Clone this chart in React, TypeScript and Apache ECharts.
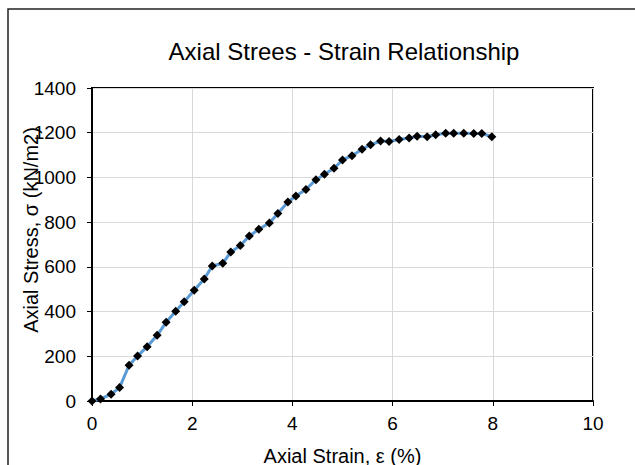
import React, { useEffect, useRef } from "react";
import * as echarts from "echarts";

const strain = [0, 0.17, 0.38, 0.55, 0.74, 0.91, 1.1, 1.3, 1.48, 1.67, 1.84, 2.04, 2.24, 2.4, 2.61, 2.77, 2.96, 3.14, 3.33, 3.54, 3.71, 3.91, 4.07, 4.27, 4.47, 4.64, 4.83, 5.0, 5.19, 5.39, 5.56, 5.76, 5.93, 6.13, 6.33, 6.49, 6.69, 6.86, 7.06, 7.22, 7.42, 7.62, 7.78, 7.98];
const stress = [0, 9, 30, 60, 160, 201, 243, 294, 352, 401, 444, 495, 546, 604, 616, 666, 695, 738, 768, 796, 839, 890, 917, 946, 990, 1014, 1041, 1078, 1097, 1126, 1146, 1163, 1161, 1170, 1176, 1184, 1182, 1191, 1198, 1198, 1198, 1197, 1197, 1182];

const titleText = "Axial Strees - Strain Relationship";
const xName = "Axial Strain, ε (%)";
const yName = "Axial Stress, σ (kN/m2)";

const FONT = "'Liberation Sans', Arial, sans-serif";

export default function App() {
  const ref = useRef<HTMLDivElement>(null);
  useEffect(() => {
    const el = ref.current;
    if (!el) return;
    const chart = echarts.init(el, null, { renderer: "svg" });
    const data = strain.map((x, i) => [x, stress[i]]);
    chart.setOption({
      animation: false,
      backgroundColor: "#fff",
      textStyle: { fontFamily: FONT },
      grid: {
        left: 92,
        top: 88,
        width: 501,
        height: 313,
        show: true,
        borderColor: "#000",
        borderWidth: 2,
        containLabel: false,
        outerBoundsMode: "none",
      },
      xAxis: {
        type: "value",
        min: 0,
        max: 10,
        interval: 2,
        name: xName,
        nameLocation: "middle",
        nameGap: 45,
        nameTextStyle: { fontSize: 20, color: "#000", fontFamily: FONT },
        axisLine: { show: true, lineStyle: { color: "#000", width: 2 } },
        axisTick: { show: true, length: 5, lineStyle: { color: "#000", width: 1 } },
        axisLabel: { fontSize: 19, color: "#000", margin: 13, fontFamily: FONT },
        splitLine: { show: true, lineStyle: { color: "#d9d9d9", width: 1 } },
      },
      yAxis: {
        type: "value",
        min: 0,
        max: 1400,
        interval: 200,
        axisLine: { show: true, lineStyle: { color: "#000", width: 2 } },
        axisTick: { show: true, length: 5, lineStyle: { color: "#000", width: 1 } },
        axisLabel: {
          fontSize: 19,
          color: "#000",
          margin: 16,
          fontFamily: FONT,
          formatter: (v: number) => String(v),
        },
        splitLine: { show: true, lineStyle: { color: "#d9d9d9", width: 1 } },
      },
      graphic: [
        {
          type: "rect",
          shape: { x: 8, y: 9, width: 750, height: 600 },
          style: { fill: "none", stroke: "#222", lineWidth: 1.5 },
          z: 100,
        },
        {
          type: "text",
          x: 344,
          y: 51.5,
          style: {
            text: titleText,
            fontSize: 24,
            fontFamily: FONT,
            fill: "#000",
            textAlign: "center",
            textVerticalAlign: "middle",
          },
        },
        {
          type: "text",
          x: 31,
          y: 230,
          rotation: Math.PI / 2,
          style: {
            text: yName,
            fontSize: 20,
            fontFamily: FONT,
            fill: "#000",
            textAlign: "center",
            textVerticalAlign: "middle",
          },
          z: 50,
        },
      ],
      series: [
        {
          type: "line",
          data,
          clip: false,
          lineStyle: { color: "#5b9bd5", width: 3 },
          itemStyle: { color: "#000" },
          symbol: "diamond",
          symbolSize: 9,
          showSymbol: true,
        },
      ],
    });
    return () => chart.dispose();
  }, []);
  return (
    <div
      ref={ref}
      style={{ position: "fixed", left: 0, top: 0, width: 635, height: 465 }}
    />
  );
}
